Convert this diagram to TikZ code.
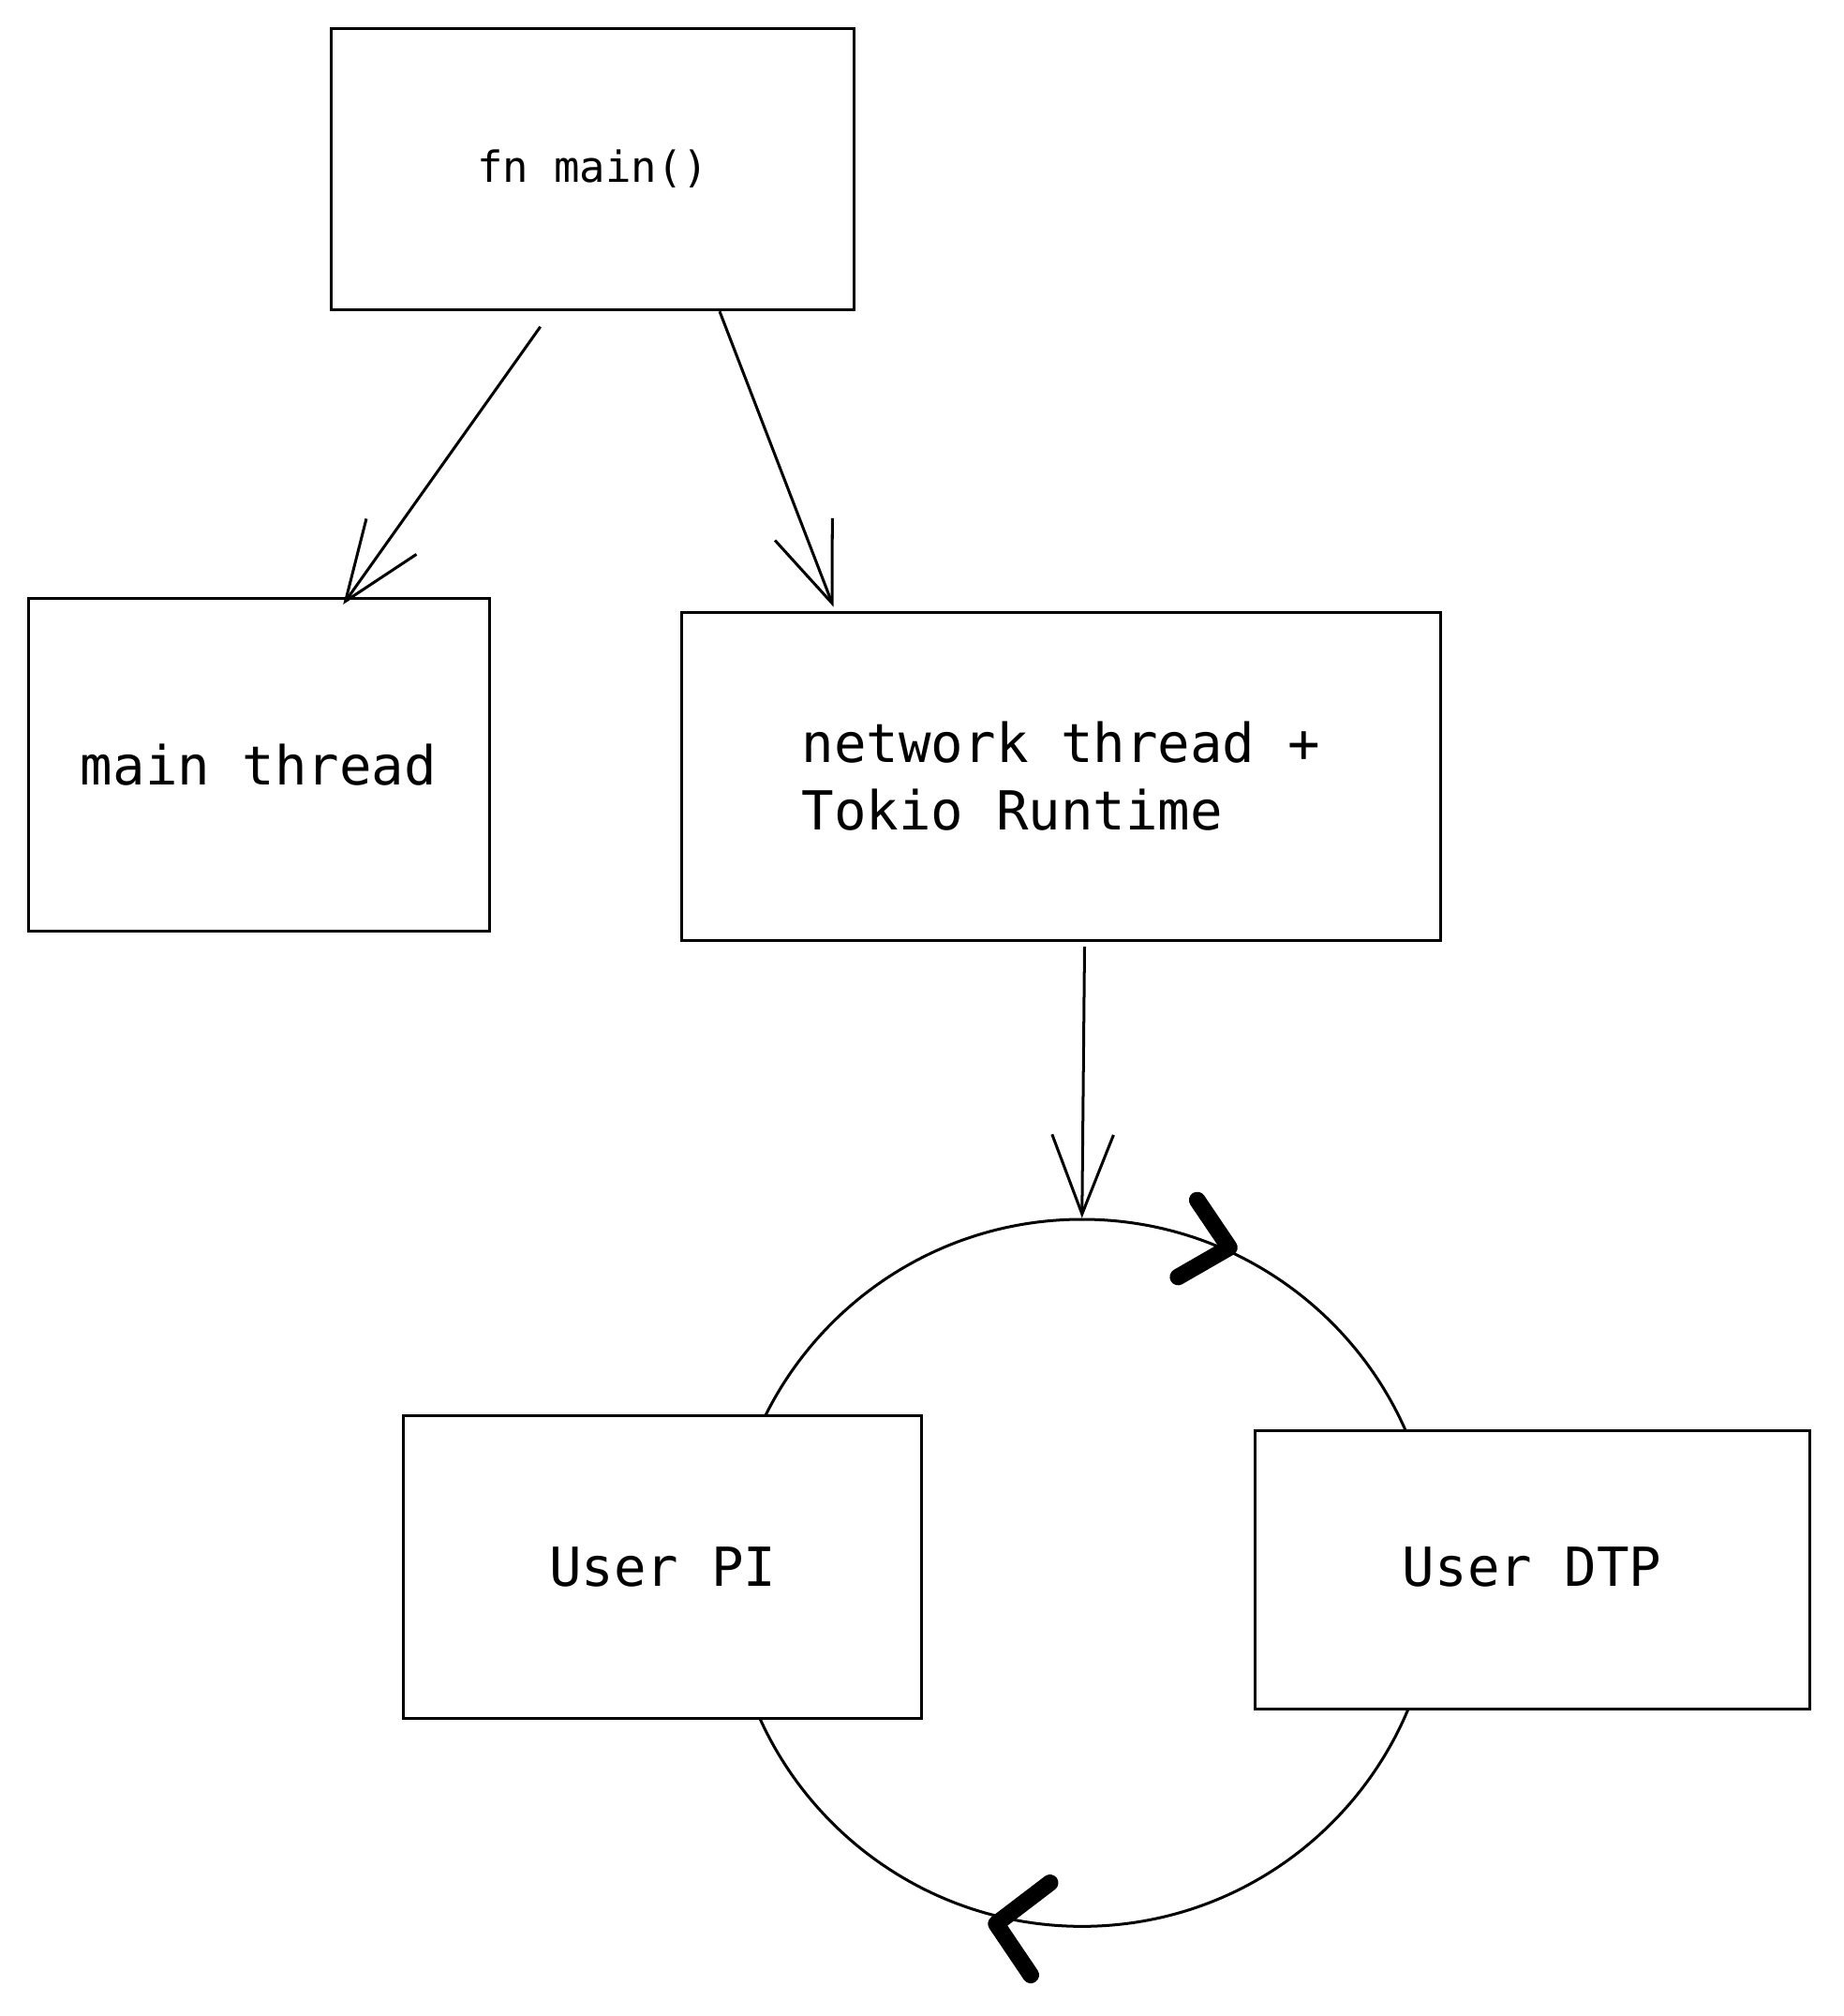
\documentclass[tikz,border=0pt]{standalone}
\usepackage{fontspec}
\setmonofont{DejaVu Sans Mono}
\usetikzlibrary{arrows.meta,calc}
\begin{document}
\begin{tikzpicture}[%
        x=0.5pt, y=-0.5pt,
        mybox/.style={draw, line width=1.1pt, fill=white, font=\ttfamily\fontsize{21}{26.5}\selectfont},
        myarrow/.style={draw, line width=1.1pt, -{Straight Barb[length=31pt,width=24pt,line width=1.1pt]}},
        mychev/.style={line width=6.5pt, line cap=round, line join=round}
    ]
    \useasboundingbox (0,0) rectangle (1440,1574);
    \node [draw, circle, line width=1.1pt, minimum size=276pt, inner sep=0pt] (loop) at (845,1228) {};
    \node [mybox, minimum width=204pt, minimum height=110pt, font=\ttfamily\fontsize{16.7}{20}\selectfont] (fnmain) at (463,132) {fn main()};
    \node [mybox, minimum width=180pt, minimum height=130pt, text height=20pt, text depth=4pt] (mainthr) at (202,597) {main thread};
    \node [mybox, minimum width=296.5pt, minimum height=128pt, align=left] (net) at (828.5,606) {network thread +\\Tokio Runtime};
    \node [mybox, minimum width=202.5pt, minimum height=118.5pt, text height=19pt, text depth=4pt] (userpi) at (517.5,1223.5) {User PI};
    \node [mybox, minimum width=216.5pt, minimum height=108.5pt, text height=17pt, text depth=4pt] (userdtp) at (1196.5,1225.5) {User DTP};
    \draw [myarrow] ([xshift=-20.5pt,yshift=-6pt]fnmain.south) -- ([xshift=33pt,yshift=-3pt]mainthr.north);
    \draw [myarrow] ([xshift=49.5pt]fnmain.south) -- ([xshift=-88.75pt,yshift=1.5pt]net.north);
    \draw [myarrow] ([xshift=9.25pt,yshift=-2pt]net.south) -- (loop.north);
    % direction marks on the loop
    \draw [mychev] ($(loop.center)+(90,-291)$) -- ($(loop.center)+(115,-254)$) -- ($(loop.center)+(75,-231)$);
    \draw [mychev] ($(loop.center)+(-25,242)$) -- ($(loop.center)+(-67,274)$) -- ($(loop.center)+(-40,314)$);
\end{tikzpicture}
\end{document}
